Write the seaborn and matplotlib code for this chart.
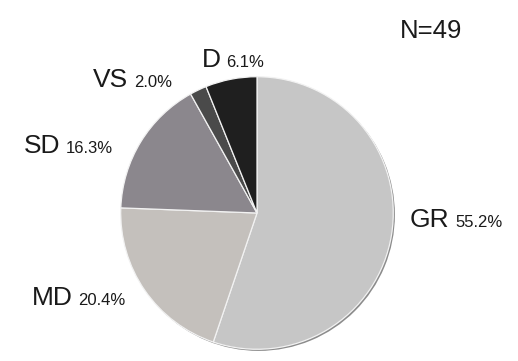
import matplotlib
matplotlib.use('Agg')
import matplotlib.pyplot as plt
import seaborn as sns

# response categories, shares in percent
labels = ['GR', 'MD', 'SD', 'VS', 'D']
shares = [55.2, 20.4, 16.3, 2.0, 6.1]
colors = ['#c6c6c6', '#c4c0bc', '#8b878d', '#4a4a4a', '#1f1f1f']
n_total = 49

# label anchor (figure pixels from top-left): left x, baseline y
label_pos = {'GR': (410, 227), 'MD': (32, 305), 'SD': (24, 153),
             'VS': (93, 87), 'D': (202, 67)}

sns.set_theme(style='white')
plt.rcParams['font.family'] = ['Liberation Sans', 'DejaVu Sans']

W, H = 518, 361
fig = plt.figure(figsize=(W / 100, H / 100), dpi=100)
cx, cy, r = 257, 213, 139
ax = fig.add_axes([(cx - r) / W, (H - cy - r) / H, 2 * r / W, 2 * r / H])

# soft shadow rim
ax.pie([1], radius=1.0, center=(0.012, -0.012), colors=['#8c8c8c'],
       wedgeprops=dict(linewidth=0))
ax.pie(shares, colors=colors, startangle=90, counterclock=False, radius=1.0,
       wedgeprops=dict(edgecolor='#f2f2f2', linewidth=0.9))
ax.set_xlim(-1.02, 1.02)
ax.set_ylim(-1.02, 1.02)
ax.set_aspect('auto')
ax.axis('off')

for lab, val in zip(labels, shares):
    px, py = label_pos[lab]
    t = fig.text(px / W, 1 - py / H, lab, fontsize=19, color='#1a1a1a',
                 ha='left', va='baseline')
    ax.annotate('{:.1f}%'.format(val), xy=(1, 0), xycoords=t,
                xytext=(4, 1.5), textcoords='offset points',
                fontsize=12, color='#1a1a1a', ha='left', va='bottom')

fig.text(400 / W, 1 - 38 / H, 'N={}'.format(n_total), fontsize=18.5,
         color='#1a1a1a', ha='left', va='baseline')

fig.savefig('out.png', dpi=100, facecolor='white')
